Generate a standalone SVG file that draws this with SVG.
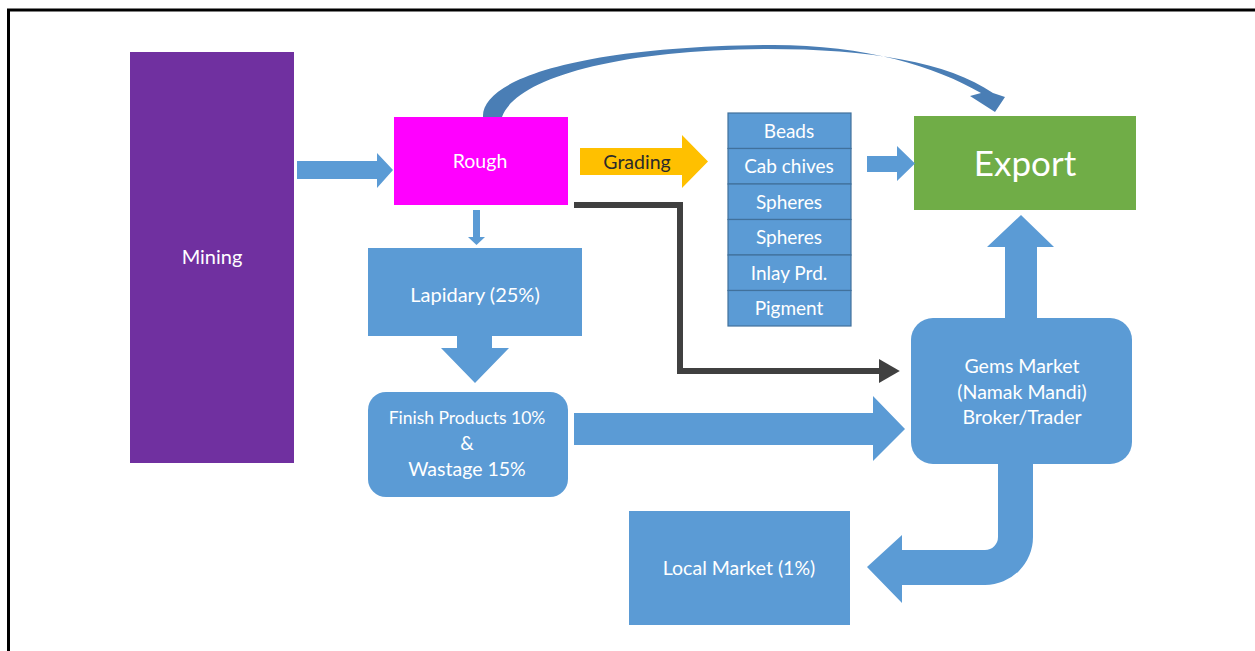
<svg xmlns="http://www.w3.org/2000/svg" width="1255" height="651" viewBox="0 0 1255 651">
<style>
.t{font-family:Lato,"Open Sans","Liberation Sans",sans-serif;fill:#ffffff;text-anchor:middle}
.blue{fill:#5B9BD5}
.cell{fill:#5B9BD5;stroke:#41719C;stroke-width:1.2}
</style>
<defs>
<marker id="dk" markerWidth="4" markerHeight="4" refX="1.2" refY="2" orient="auto" markerUnits="strokeWidth">
<path d="M0,0 L3.5,2 L0,4 Z" fill="#404040"/>
</marker>
</defs>
<rect x="0" y="0" width="1255" height="651" fill="#ffffff"/>
<rect x="8.5" y="10" width="1260" height="660" fill="none" stroke="#000000" stroke-width="3"/>

<g id="mining">
<rect x="130" y="52" width="164" height="411" fill="#7030A0"/>
<text class="t" x="212" y="264" font-size="20">Mining</text>
</g>
<g id="rough">
<rect x="394" y="117" width="174" height="88" fill="#FF00FF"/>
<text class="t" x="480" y="168" font-size="19.5" fill="#fde8fd">Rough</text>
</g>
<g id="grades">
<rect class="cell" x="728" y="113" width="123" height="35.5"/>
<rect class="cell" x="728" y="148.5" width="123" height="35.5"/>
<rect class="cell" x="728" y="184" width="123" height="35.5"/>
<rect class="cell" x="728" y="219.5" width="123" height="35.5"/>
<rect class="cell" x="728" y="255" width="123" height="35.5"/>
<rect class="cell" x="728" y="290.5" width="123" height="35.5"/>
<text class="t" x="789" y="138" font-size="19">Beads</text>
<text class="t" x="789" y="173" font-size="19">Cab chives</text>
<text class="t" x="789" y="209" font-size="19">Spheres</text>
<text class="t" x="789" y="244" font-size="19">Spheres</text>
<text class="t" x="789" y="280" font-size="19">Inlay Prd.</text>
<text class="t" x="789" y="315" font-size="19">Pigment</text>
</g>
<g id="export">
<rect x="914" y="116" width="222" height="94" fill="#70AD47"/>
<text class="t" x="1025" y="176" font-size="35">Export</text>
</g>
<g id="lapidary">
<rect class="blue" x="368" y="248" width="214" height="88"/>
<text class="t" x="475" y="302" font-size="20">Lapidary (25%)</text>
</g>
<g id="finish">
<rect class="blue" x="368" y="392" width="200" height="105" rx="18"/>
<text class="t" x="467" y="424" font-size="17.5">Finish Products 10%</text>
<text class="t" x="467" y="450" font-size="19">&amp;</text>
<text class="t" x="467" y="476" font-size="19.5">Wastage 15%</text>
</g>
<g id="gems">
<rect class="blue" x="911" y="318" width="221" height="146" rx="22"/>
<text class="t" x="1022" y="373" font-size="19.5">Gems Market</text>
<text class="t" x="1022" y="399" font-size="19.5">(Namak Mandi)</text>
<text class="t" x="1022" y="424" font-size="19.5">Broker/Trader</text>
</g>
<g id="local">
<rect class="blue" x="629" y="511" width="221" height="114"/>
<text class="t" x="739" y="575" font-size="19.5">Local Market (1%)</text>
</g>

<g id="connectors">
<path class="blue" d="M297,161 L377,161 L377,153 L393,170 L377,188 L377,179 L297,179 Z"/>
<path d="M580,148 L682,148 L682,135 L708,161.5 L682,188 L682,175 L580,175 Z" fill="#FFC000"/>
<text x="637" y="169" font-size="19.5" font-family="Lato,'Open Sans','Liberation Sans',sans-serif" text-anchor="middle" fill="#2b2b2b">Grading</text>
<path class="blue" d="M867,156 L897,156 L897,146 L915,163.5 L897,181 L897,172 L867,172 Z"/>
<path class="blue" d="M473,210 L480,210 L480,237 L485,237 L476.5,245 L468,237 L473,237 Z"/>
<path class="blue" d="M457,336 L492,336 L492,348 L509,348 L475,383 L441,348 L457,348 Z"/>
<path class="blue" d="M574,413 L873,413 L873,396 L905,429 L873,461 L873,445 L574,445 Z"/>
<path class="blue" d="M1005,318 L1005,247 L987,247 L1021,215 L1054,247 L1037,247 L1037,318 Z"/>
<path class="blue" d="M1033,463 L1033,537 A48,48 0 0 1 985,585 L902,585 L902,603 L867,567 L902,535 L902,550 L985,550 A13,13 0 0 0 998,537 L998,463 Z"/>
<path d="M483,117 C481,82 570,47 767,45 C862,44 935,66 981,93 L970,96 L995,112 L1005,97 L993,93 C948,62 870,49 767,49 C610,50 515,80 502,117 Z" fill="#4A7EB5"/>
<polyline points="574,205 680,205 680,371 886,371" fill="none" stroke="#404040" stroke-width="6" marker-end="url(#dk)"/>
</g>
</svg>
